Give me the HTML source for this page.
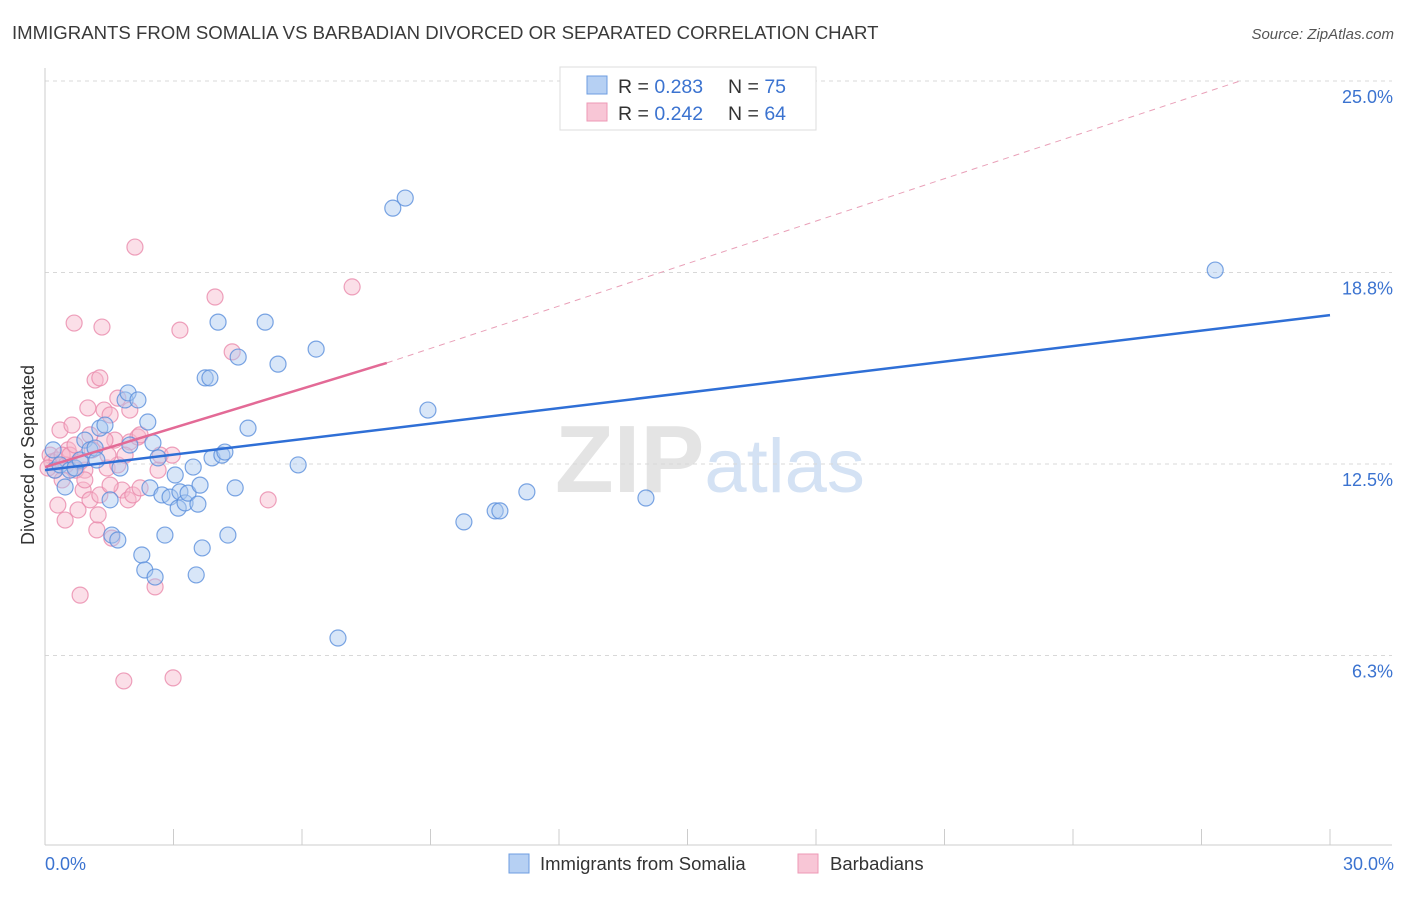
<!DOCTYPE html>
<html><head><meta charset="utf-8"><style>
body{margin:0;background:#fff;font-family:"Liberation Sans",sans-serif;}
svg text{font-family:"Liberation Sans",sans-serif;}
</style></head><body>
<svg id="chart" width="1406" height="892" viewBox="0 0 1406 892" xmlns="http://www.w3.org/2000/svg">
<text x="12" y="39" font-size="18.6" fill="#3a3a3a">IMMIGRANTS FROM SOMALIA VS BARBADIAN DIVORCED OR SEPARATED CORRELATION CHART</text>
<text x="1394" y="39" font-size="15" fill="#555" text-anchor="end" font-style="italic">Source: ZipAtlas.com</text>
<text x="555" y="492" font-size="96" fill="#e4e4e4" font-family="Liberation Serif" font-weight="bold">ZIP<tspan fill="#d4e2f4" font-family="Liberation Sans" font-weight="normal" font-size="76">atlas</tspan></text>
<g id="grid"></g>
<g id="axes"></g>
<g id="marks"></g>
<text transform="translate(34,455) rotate(-90)" font-size="18" fill="#333" text-anchor="middle">Divorced or Separated</text>
<text x="45" y="870" font-size="18" fill="#3b73d0">0.0%</text>
<text x="1394" y="870" font-size="18" fill="#3b73d0" text-anchor="end">30.0%</text>
<g>
<rect x="560" y="67" width="256" height="63" fill="#fff" stroke="#ddd"/>
<rect x="587" y="76" width="20" height="18" fill="#b6d0f3" stroke="#6d9de0"/>
<rect x="587" y="103" width="20" height="18" fill="#f8c6d6" stroke="#ee98b6"/>
<text x="618" y="93" font-size="19.5" fill="#333">R = <tspan fill="#3b73d0">0.283</tspan></text>
<text x="728" y="93" font-size="19.5" fill="#333">N = <tspan fill="#3b73d0">75</tspan></text>
<text x="618" y="120" font-size="19.5" fill="#333">R = <tspan fill="#3b73d0">0.242</tspan></text>
<text x="728" y="120" font-size="19.5" fill="#333">N = <tspan fill="#3b73d0">64</tspan></text>
</g>
<g>
<rect x="509" y="854" width="20" height="19" fill="#b6d0f3" stroke="#6d9de0"/>
<text x="540" y="870" font-size="18.5" fill="#333">Immigrants from Somalia</text>
<rect x="798" y="854" width="20" height="19" fill="#f8c6d6" stroke="#ee98b6"/>
<text x="830" y="870" font-size="18.5" fill="#333">Barbadians</text>
</g>
</svg>
<script>
const yTicks=[25.0,18.75,12.5,6.25];
const yTickLabels=["25.0%","18.8%","12.5%","6.3%"];
const xTicks=[0,3,6,9,12,15,18,21,24,27,30];
const blueX=[0.19,0.23,0.35,0.47,0.58,0.70,0.82,0.93,1.05,1.17,1.21,1.28,1.40,1.52,1.56,1.70,1.75,1.87,1.94,1.98,2.17,2.26,2.33,2.40,2.45,2.52,2.57,2.64,2.73,2.80,2.92,3.04,3.11,3.15,3.27,3.34,3.46,3.53,3.57,3.62,3.67,3.74,3.85,3.90,4.04,4.13,4.20,4.27,4.44,4.51,4.74,5.14,5.44,5.91,6.33,6.84,8.12,8.41,8.94,9.78,10.51,10.62,11.25,14.03,27.32];
const blueY=[12.96,12.30,12.47,11.75,12.30,12.37,12.63,13.28,12.96,13.02,12.63,13.67,13.77,11.33,10.18,10.02,12.37,14.59,14.82,13.12,14.59,9.53,9.04,13.87,11.72,13.19,8.81,12.70,11.49,10.18,11.42,12.14,11.06,11.59,11.23,11.55,12.40,8.88,11.19,11.81,9.76,15.31,15.31,12.70,17.13,12.79,12.89,10.18,11.72,15.99,13.67,17.13,15.76,12.47,16.25,6.82,20.85,21.18,14.26,10.61,10.97,10.97,11.59,11.39,18.83];
const pinkX=[0.12,0.16,0.23,0.30,0.35,0.40,0.47,0.54,0.63,0.68,0.72,0.77,0.82,0.89,0.93,1.00,1.05,1.10,1.17,1.21,1.28,1.33,1.38,1.45,1.52,1.56,1.63,1.70,1.80,1.84,1.94,1.98,2.05,2.10,2.17,2.22,2.57,2.64,2.69,2.97,2.99,3.15,3.97,4.37,5.21,7.17,0.28,0.40,0.49,0.58,0.70,0.82,0.93,0.07,1.05,1.28,1.52,1.70,1.87,1.47,1.98,1.40,2.22,1.24];
const pinkY=[12.79,12.57,12.30,11.16,13.61,11.98,10.67,12.96,13.77,17.10,12.30,11.00,8.22,11.65,12.30,14.33,13.45,12.96,15.24,10.35,15.31,16.97,14.26,12.37,14.10,10.08,13.28,14.65,11.65,5.42,11.33,13.22,11.49,19.58,13.38,11.72,8.49,12.30,12.79,12.79,5.52,16.87,17.95,16.16,11.33,18.28,12.63,12.79,12.47,12.79,13.12,12.57,11.98,12.37,11.33,11.49,11.81,12.47,12.79,12.79,14.26,13.28,13.45,10.84];
const blueTrend=[[0,12.3],[30,17.36]];
const pinkTrend=[[0,12.4],[7.98,15.8]];
const pinkTrendExt=[[7.98,15.8],[27.9,25.0]];
const NS="http://www.w3.org/2000/svg";
const sx=v=>45+v*(1330-45)/30;
const sy=v=>847-v*30.64;
function mk(tag,attrs,parent){const e=document.createElementNS(NS,tag);for(const k in attrs)e.setAttribute(k,attrs[k]);parent.appendChild(e);return e;}
const grid=document.getElementById('grid'),axes=document.getElementById('axes'),marks=document.getElementById('marks');
yTicks.forEach((t,i)=>{
 const l=mk('line',{x1:45,x2:1392,y1:sy(t),y2:sy(t),stroke:'#d8d8d8','stroke-dasharray':'4,4'},grid);
 
 
 const tx=mk('text',{x:1393,y:sy(t)+22,'font-size':18,fill:'#3b73d0','text-anchor':'end'},grid);
 tx.textContent=yTickLabels[i];
 
 
});
const yl=mk('line',{x1:45,x2:45,y1:68,y2:845,stroke:'#ccc'},axes);


const xl=mk('line',{x1:45,x2:1392,y1:845,y2:845,stroke:'#ccc'},axes);


xTicks.forEach(t=>{
 const l=mk('line',{x1:sx(t),x2:sx(t),y1:829,y2:845,stroke:'#ccc'},axes);
 
 
});
function dots(X,Y,fill,stroke,name){X.forEach((x,i)=>{
 const c=mk('circle',{cx:sx(x),cy:sy(Y[i]),r:8,fill:fill,'fill-opacity':0.45,stroke:stroke,'stroke-width':1.2,'stroke-opacity':0.8},marks);
 
 
});}
dots(pinkX,pinkY,'#f7b9cd','#ea8aab','barbadian-point');
dots(blueX,blueY,'#a9c7f0','#5a8fdc','somalia-point');
function line(p,stroke,w,dash,name){
 const l=mk('line',{x1:sx(p[0][0]),y1:sy(p[0][1]),x2:sx(p[1][0]),y2:sy(p[1][1]),stroke:stroke,'stroke-width':w},marks);
 if(dash)l.setAttribute('stroke-dasharray',dash);
 
 
}
line(pinkTrendExt,'#e9a0b8',1,'6,5','barbadian-trend-extension');
line(blueTrend,'#2f6fd6',2.5,null,'somalia-trend-line');
line(pinkTrend,'#e36a96',2.5,null,'barbadian-trend-line');
</script>
</body></html>
